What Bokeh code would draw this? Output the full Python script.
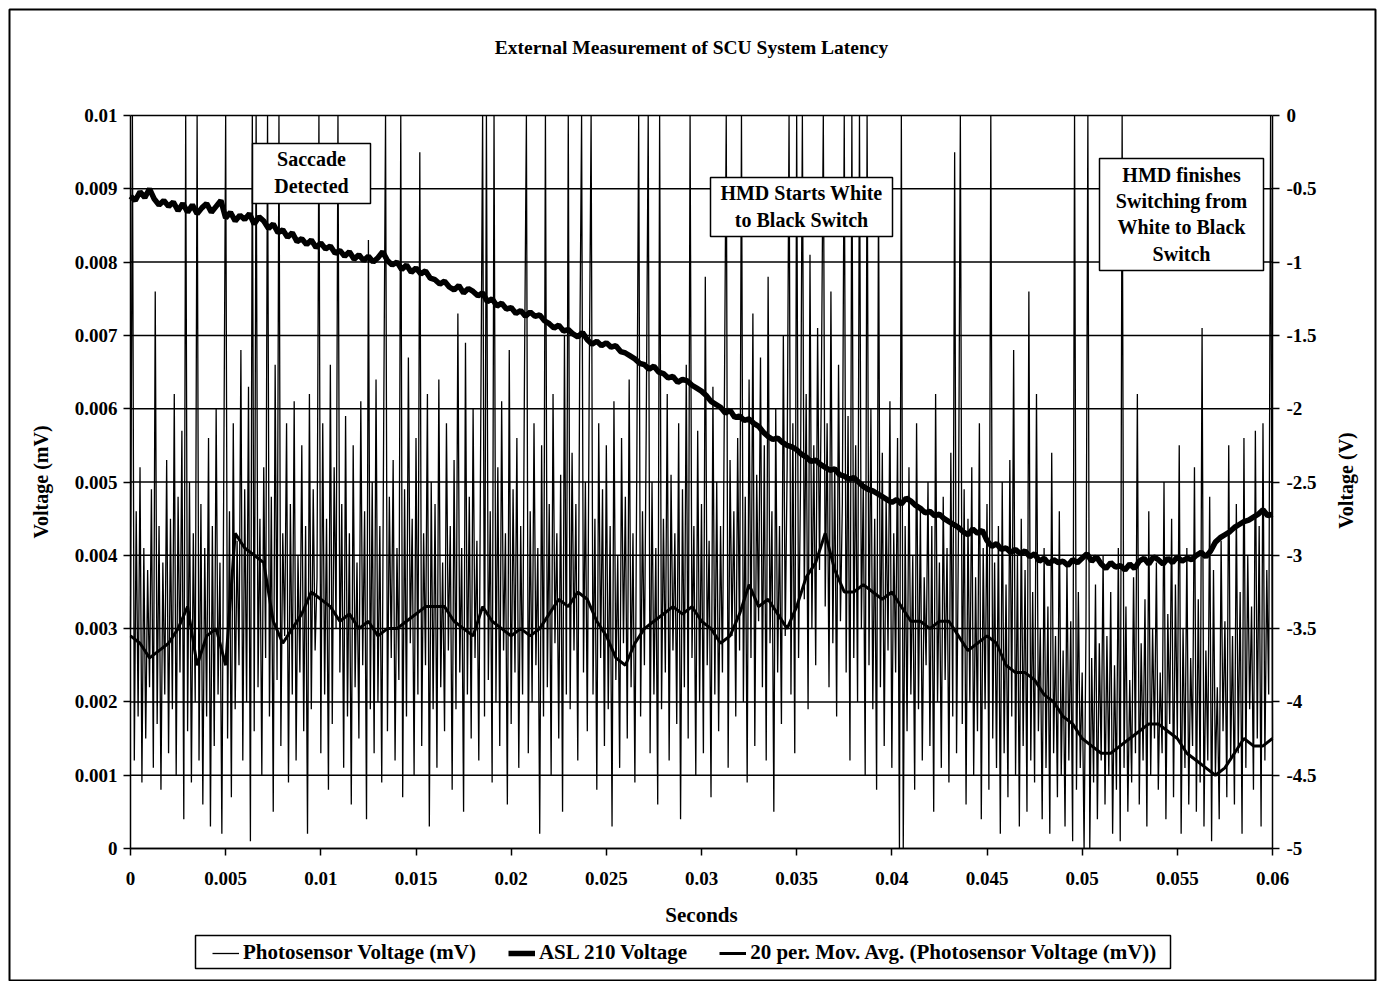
import math
import numpy as np
from bokeh.plotting import figure
from bokeh.models import (Range1d, LinearAxis, FixedTicker, CustomJSTickFormatter,
                          Legend, LegendItem, BoxAnnotation, Label)
from bokeh.embed import file_html
from bokeh.resources import INLINE

# ---------------- data ----------------
# Photosensor voltage (mV), one sample every 0.0001 s from 0 to 0.06 s
photo_step = 0.0001
photo_mV = [
    0.0030, 0.0105, 0.0012, 0.0046, 0.0018, 0.0052, 0.0009, 0.0041, 0.0015, 0.0038,
    0.0022, 0.0049, 0.0011, 0.0076, 0.0017, 0.0044, 0.0008, 0.0039, 0.0021, 0.0053,
    0.0013, 0.0045, 0.0019, 0.0062, 0.0010, 0.0048, 0.0024, 0.0057, 0.0004, 0.0110,
    0.0016, 0.0050, 0.0009, 0.0043, 0.0020, 0.0112, 0.0012, 0.0047, 0.0006, 0.0041,
    0.0018, 0.0056, 0.0003, 0.0044, 0.0014, 0.0060, 0.0021, 0.0039, 0.0002, 0.0051,
    0.0110, 0.0015, 0.0046, 0.0007, 0.0058, 0.0019, 0.0042, 0.0025, 0.0068, 0.0012,
    0.0049, 0.0020, 0.0063, 0.0001, 0.0115, 0.0016, 0.0108, 0.0022, 0.0045, 0.0010,
    0.0052, 0.0026, 0.0112, 0.0018, 0.0048, 0.0005, 0.0066, 0.0023, 0.0115, 0.0014,
    0.0043, 0.0029, 0.0058, 0.0009, 0.0047, 0.0021, 0.0061, 0.0012, 0.0040, 0.0024,
    0.0055, 0.0016, 0.0044, 0.0002, 0.0062, 0.0019, 0.0049, 0.0027, 0.0037, 0.0106,
    0.0013, 0.0058, 0.0021, 0.0045, 0.0008, 0.0066, 0.0017, 0.0052, 0.0030, 0.0112,
    0.0024, 0.0047, 0.0011, 0.0059, 0.0018, 0.0043, 0.0006, 0.0055, 0.0022, 0.0039,
    0.0015, 0.0061, 0.0025, 0.0046, 0.0004, 0.0083, 0.0019, 0.0050, 0.0013, 0.0064,
    0.0020, 0.0044, 0.0009, 0.0057, 0.0110, 0.0016, 0.0048, 0.0026, 0.0053, 0.0012,
    0.0041, 0.0023, 0.0114, 0.0007, 0.0049, 0.0018, 0.0067, 0.0028, 0.0045, 0.0010,
    0.0056, 0.0021, 0.0095, 0.0014, 0.0043, 0.0025, 0.0062, 0.0003, 0.0050, 0.0019,
    0.0047, 0.0011, 0.0064, 0.0022, 0.0039, 0.0016, 0.0058, 0.0027, 0.0044, 0.0008,
    0.0053, 0.0019, 0.0073, 0.0024, 0.0041, 0.0005, 0.0069, 0.0021, 0.0048, 0.0015,
    0.0060, 0.0026, 0.0042, 0.0012, 0.0057, 0.0114, 0.0018, 0.0110, 0.0023, 0.0046,
    0.0009, 0.0113, 0.0020, 0.0052, 0.0014, 0.0061, 0.0027, 0.0043, 0.0006, 0.0068,
    0.0017, 0.0049, 0.0024, 0.0056, 0.0011, 0.0044, 0.0021, 0.0065, 0.0109, 0.0013,
    0.0046, 0.0020, 0.0058, 0.0025, 0.0041, 0.0002, 0.0055, 0.0018, 0.0112, 0.0022,
    0.0047, 0.0010, 0.0062, 0.0028, 0.0043, 0.0015, 0.0051, 0.0005, 0.0070, 0.0021,
    0.0112, 0.0019, 0.0054, 0.0027, 0.0047, 0.0012, 0.0066, 0.0100, 0.0024, 0.0050,
    0.0016, 0.0063, 0.0113, 0.0021, 0.0045, 0.0008, 0.0058, 0.0026, 0.0049, 0.0014,
    0.0055, 0.0019, 0.0044, 0.0003, 0.0061, 0.0023, 0.0040, 0.0011, 0.0056, 0.0028,
    0.0048, 0.0015, 0.0064, 0.0022, 0.0043, 0.0009, 0.0052, 0.0111, 0.0018, 0.0046,
    0.0025, 0.0059, 0.0110, 0.0013, 0.0050, 0.0021, 0.0041, 0.0006, 0.0115, 0.0019,
    0.0045, 0.0024, 0.0062, 0.0012, 0.0051, 0.0027, 0.0043, 0.0017, 0.0058, 0.0004,
    0.0049, 0.0022, 0.0066, 0.0015, 0.0113, 0.0026, 0.0044, 0.0010, 0.0057, 0.0020,
    0.0047, 0.0013, 0.0078, 0.0025, 0.0042, 0.0007, 0.0063, 0.0021, 0.0050, 0.0016,
    0.0044, 0.0024, 0.0060, 0.0114, 0.0011, 0.0053, 0.0029, 0.0046, 0.0018, 0.0056,
    0.0027, 0.0112, 0.0020, 0.0048, 0.0009, 0.0064, 0.0026, 0.0073, 0.0014, 0.0051,
    0.0031, 0.0067, 0.0022, 0.0055, 0.0012, 0.0078, 0.0028, 0.0046, 0.0005, 0.0060,
    0.0024, 0.0044, 0.0017, 0.0070, 0.0029, 0.0052, 0.0108, 0.0021, 0.0058, 0.0013,
    0.0112, 0.0026, 0.0049, 0.0110, 0.0034, 0.0062, 0.0019, 0.0081, 0.0030, 0.0055,
    0.0025, 0.0071, 0.0038, 0.0064, 0.0111, 0.0033, 0.0058, 0.0022, 0.0076, 0.0028,
    0.0052, 0.0018, 0.0066, 0.0031, 0.0047, 0.0113, 0.0024, 0.0059, 0.0012, 0.0114,
    0.0026, 0.0055, 0.0020, 0.0112, 0.0030, 0.0050, 0.0010, 0.0112, 0.0025, 0.0060,
    0.0019, 0.0045, 0.0008, 0.0090, 0.0022, 0.0054, 0.0014, 0.0048, 0.0027, 0.0061,
    0.0011, 0.0043, 0.0024, 0.0056, 0.0000, 0.0115, 0.0000, 0.0044, 0.0016, 0.0052,
    0.0021, 0.0040, 0.0008, 0.0058, 0.0019, 0.0046, 0.0012, 0.0037, 0.0025, 0.0050,
    0.0014, 0.0044, 0.0005, 0.0062, 0.0020, 0.0039, 0.0011, 0.0048, 0.0023, 0.0041,
    0.0009, 0.0054, 0.0018, 0.0095, 0.0013, 0.0043, 0.0106, 0.0017, 0.0049, 0.0006,
    0.0045, 0.0020, 0.0052, 0.0010, 0.0037, 0.0016, 0.0058, 0.0004, 0.0041, 0.0019,
    0.0047, 0.0008, 0.0110, 0.0015, 0.0039, 0.0011, 0.0044, 0.0002, 0.0050, 0.0013,
    0.0036, 0.0007, 0.0053, 0.0018, 0.0068, 0.0010, 0.0040, 0.0003, 0.0045, 0.0014,
    0.0038, 0.0005, 0.0076, 0.0012, 0.0035, 0.0009, 0.0062, 0.0016, 0.0030, 0.0004,
    0.0041, 0.0011, 0.0033, 0.0002, 0.0054, 0.0013, 0.0029, 0.0007, 0.0046, 0.0010,
    0.0027, 0.0003, 0.0039, 0.0012, 0.0031, 0.0001, 0.0113, 0.0008, 0.0035, 0.0011,
    0.0024, 0.0000, 0.0030, 0.0115, 0.0000, 0.0026, 0.0009, 0.0036, 0.0004, 0.0028,
    0.0012, 0.0040, 0.0006, 0.0029, 0.0010, 0.0035, 0.0002, 0.0025, 0.0008, 0.0041,
    0.0001, 0.0114, 0.0011, 0.0033, 0.0005, 0.0023, 0.0009, 0.0037, 0.0013, 0.0062,
    0.0006, 0.0028, 0.0012, 0.0034, 0.0003, 0.0046, 0.0010, 0.0030, 0.0015, 0.0039,
    0.0008, 0.0024, 0.0013, 0.0050, 0.0004, 0.0032, 0.0017, 0.0045, 0.0007, 0.0036,
    0.0015, 0.0055, 0.0002, 0.0030, 0.0011, 0.0041, 0.0006, 0.0026, 0.0014, 0.0052,
    0.0005, 0.0034, 0.0009, 0.0071, 0.0003, 0.0027, 0.0012, 0.0048, 0.0001, 0.0038,
    0.0010, 0.0022, 0.0004, 0.0042, 0.0016, 0.0031, 0.0007, 0.0055, 0.0012, 0.0029,
    0.0006, 0.0047, 0.0013, 0.0035, 0.0002, 0.0056, 0.0011, 0.0040, 0.0019, 0.0033,
    0.0008, 0.0057, 0.0015, 0.0044, 0.0003, 0.0058, 0.0012, 0.0038, 0.0021, 0.0112,
    0.0015,
]

# ASL 210 voltage (V, right axis), one sample every 0.00025 s
asl_step = 0.00025
asl_V = [
    -0.55, -0.58, -0.52, -0.56, -0.50, -0.57, -0.61, -0.58, -0.62, -0.59, -0.65, -0.60,
    -0.66, -0.61, -0.67, -0.63, -0.60, -0.66, -0.62, -0.58, -0.70, -0.66, -0.72, -0.68,
    -0.71, -0.67, -0.74, -0.69, -0.72, -0.77, -0.74, -0.80, -0.78, -0.83, -0.80, -0.86,
    -0.84, -0.88, -0.85, -0.90, -0.87, -0.91, -0.89, -0.94, -0.92, -0.96, -0.93, -0.98,
    -0.95, -0.99, -0.96, -1.00, -0.97, -0.93, -0.99, -1.02, -1.00, -1.05, -1.02, -1.07,
    -1.04, -1.08, -1.06, -1.11, -1.12, -1.15, -1.13, -1.17, -1.19, -1.16, -1.21, -1.18,
    -1.20, -1.23, -1.21, -1.27, -1.25, -1.30, -1.28, -1.32, -1.31, -1.35, -1.33, -1.37,
    -1.34, -1.37, -1.36, -1.40, -1.42, -1.45, -1.43, -1.47, -1.46, -1.49, -1.51, -1.48,
    -1.53, -1.56, -1.54, -1.57, -1.55, -1.58, -1.57, -1.61, -1.62, -1.64, -1.66, -1.69,
    -1.70, -1.73, -1.71, -1.75, -1.76, -1.79, -1.78, -1.82, -1.80, -1.81, -1.84, -1.86,
    -1.88, -1.91, -1.95, -1.97, -1.99, -2.03, -2.01, -2.06, -2.05, -2.08, -2.07, -2.10,
    -2.12, -2.16, -2.19, -2.21, -2.20, -2.23, -2.25, -2.26, -2.28, -2.31, -2.33, -2.36,
    -2.35, -2.38, -2.40, -2.42, -2.41, -2.45, -2.46, -2.48, -2.47, -2.50, -2.53, -2.55,
    -2.56, -2.58, -2.60, -2.62, -2.64, -2.62, -2.65, -2.61, -2.63, -2.66, -2.68, -2.71,
    -2.70, -2.73, -2.72, -2.75, -2.77, -2.79, -2.81, -2.84, -2.86, -2.82, -2.85, -2.83,
    -2.90, -2.94, -2.92, -2.96, -2.95, -2.98, -2.96, -2.99, -2.97, -3.01, -2.99, -3.04,
    -3.02, -3.06, -3.03, -3.05, -3.04, -3.07, -3.03, -3.05, -3.02, -2.99, -3.04, -3.01,
    -3.06, -3.09, -3.05, -3.08, -3.07, -3.10, -3.06, -3.09, -3.04, -3.02, -3.06, -3.01,
    -3.03, -3.06, -3.02, -3.05, -3.01, -3.04, -3.02, -3.03, -3.00, -2.98, -3.01, -2.97,
    -2.91, -2.88, -2.86, -2.84, -2.81, -2.79, -2.77, -2.76, -2.74, -2.72, -2.69, -2.73,
    -2.72,
]

# 20 period moving average of the photosensor voltage (mV), every 0.0005 s
ma_step = 0.0005
ma_mV = [
    0.0029, 0.0028, 0.0026, 0.0027, 0.0028, 0.0030, 0.0033, 0.0025, 0.0029, 0.0030,
    0.0025, 0.0043, 0.0041, 0.0040, 0.0039, 0.0031, 0.0028, 0.0030, 0.0032, 0.0035,
    0.0034, 0.0033, 0.0031, 0.0032, 0.0030, 0.0031, 0.0029, 0.0030, 0.0030, 0.0031,
    0.0032, 0.0033, 0.0033, 0.0033, 0.0031, 0.0030, 0.0029, 0.0033, 0.0031, 0.0030,
    0.0029, 0.0030, 0.0029, 0.0030, 0.0032, 0.0034, 0.0033, 0.0035, 0.0034, 0.0031,
    0.0029, 0.0026, 0.0025, 0.0028, 0.0030, 0.0031, 0.0032, 0.0033, 0.0032, 0.0033,
    0.0031, 0.0030, 0.0028, 0.0029, 0.0032, 0.0036, 0.0033, 0.0034, 0.0032, 0.0030,
    0.0033, 0.0037, 0.0039, 0.0043, 0.0038, 0.0035, 0.0035, 0.0036, 0.0035, 0.0034,
    0.0035, 0.0033, 0.0031, 0.0031, 0.0030, 0.0031, 0.0031, 0.0029, 0.0027, 0.0028,
    0.0029, 0.0028, 0.0025, 0.0024, 0.0024, 0.0023, 0.0021, 0.0020, 0.0018, 0.0017,
    0.0015, 0.0014, 0.0013, 0.0013, 0.0014, 0.0015, 0.0016, 0.0017, 0.0017, 0.0016,
    0.0015, 0.0013, 0.0012, 0.0011, 0.0010, 0.0011, 0.0013, 0.0015, 0.0014, 0.0014,
    0.0015,
]

x_ticks = [0, 0.005, 0.01, 0.015, 0.02, 0.025, 0.03, 0.035, 0.04, 0.045, 0.05, 0.055, 0.06]
left_ticks = [0, 0.001, 0.002, 0.003, 0.004, 0.005, 0.006, 0.007, 0.008, 0.009, 0.01]
right_ticks = [-5, -4.5, -4, -3.5, -3, -2.5, -2, -1.5, -1, -0.5, 0]

X_MIN, X_MAX = 0, 0.06          # axis limits (s)
Y_MIN, Y_MAX = 0, 0.01          # left axis limits (mV)
R_MIN, R_MAX = -5, 0            # right axis limits (V)

photo_t = np.arange(len(photo_mV)) * photo_step
asl_t = np.arange(len(asl_V)) * asl_step
ma_t = np.arange(len(ma_mV)) * ma_step

# ---------------- layout (pixels) ----------------
W, H = 1383, 981
FL, FR, FT, FB = 9, 1375, 9, 980          # outer chart frame
PL, PR, PT, PB = 130, 1272, 115, 848      # plot area
kx = (PR - PL) / (X_MAX - X_MIN)
ky = (PB - PT) / (Y_MAX - Y_MIN)


def X(px):
    return X_MIN + (px - PL) / kx


def Y(py):
    return Y_MIN + (PB - py) / ky


def R(yv):
    return R_MIN + (yv - Y_MIN) / (Y_MAX - Y_MIN) * (R_MAX - R_MIN)


FONT = "Liberation Serif"

p = figure(width=W, height=H, output_backend="svg", toolbar_location=None, title=None,
           x_range=Range1d(X(FL), X(FR)), y_range=Range1d(Y(FB), Y(FT)),
           min_border_left=FL, min_border_right=W - FR, min_border_top=FT,
           min_border_bottom=H - FB)
p.extra_y_ranges = {"asl": Range1d(R(Y(FB)), R(Y(FT)))}
p.background_fill_color = "white"
p.border_fill_color = "white"
p.outline_line_color = "black"
p.outline_line_width = 2
p.grid.visible = False

fmt = CustomJSTickFormatter(code="return tick.toString();")


def style_axis(ax, ticks):
    ax.ticker = FixedTicker(ticks=ticks)
    ax.formatter = fmt
    ax.axis_line_color = "black"
    ax.axis_line_width = 1.5
    ax.major_tick_line_color = "black"
    ax.major_tick_line_width = 1.5
    ax.major_tick_in = 0
    ax.major_tick_out = 7
    ax.minor_tick_line_color = None
    ax.major_label_text_font = FONT
    ax.major_label_text_font_style = "bold"
    ax.major_label_text_font_size = "19px"
    ax.major_label_text_color = "black"
    ax.axis_label_text_font = FONT
    ax.axis_label_text_font_style = "bold"
    ax.axis_label_text_font_size = "20px"
    ax.axis_label_text_color = "black"


xax = p.xaxis[0]
style_axis(xax, x_ticks)
xax.axis_label = "Seconds"
xax.fixed_location = Y_MIN
xax.bounds = (X_MIN, X_MAX)
xax.major_label_standoff = 16
xax.axis_label_standoff = 15
xax.axis_label_text_font_size = "21px"

yax = p.yaxis[0]
style_axis(yax, left_ticks)
yax.axis_label = "Voltage (mV)"
yax.fixed_location = X_MIN
yax.bounds = (Y_MIN, Y_MAX)
yax.major_label_standoff = 6
yax.axis_label_standoff = 20

raxis = LinearAxis(y_range_name="asl", fixed_location=X_MAX, bounds=(R_MIN, R_MAX))
style_axis(raxis, right_ticks)
raxis.major_label_standoff = 7
p.add_layout(raxis, "right")

# horizontal grid lines at the left-axis ticks, limited to the plot area
p.segment(x0=X_MIN, x1=X_MAX, y0=left_ticks, y1=left_ticks,
          line_color="black", line_width=1.5, level="underlay")

# series (the photosensor trace is shown clipped at the top of the axis, as in the chart)
r_photo = p.line(photo_t, np.minimum(photo_mV, Y_MAX), line_color="black", line_width=1.3)
r_asl = p.line(asl_t, asl_V, line_color="black", line_width=5.5, y_range_name="asl")
r_ma = p.line(ma_t, ma_mV, line_color="black", line_width=3)

# title and right axis label
p.add_layout(Label(x=X(691), y=Y(47), text="External Measurement of SCU System Latency",
                   text_align="center", text_baseline="middle", text_font=FONT,
                   text_font_style="bold", text_font_size="19.5px", text_color="black"))
p.add_layout(Label(x=X(1345), y=Y(480), text="Voltage (V)", angle=math.pi / 2,
                   text_align="center", text_baseline="middle", text_font=FONT,
                   text_font_style="bold", text_font_size="20px", text_color="black"))


# ---------------- annotation boxes ----------------
def note(l, r, t, b, xc, lines_y, lines):
    p.add_layout(BoxAnnotation(left=X(l), right=X(r), top=Y(t), bottom=Y(b),
                               fill_color="white", fill_alpha=1.0,
                               line_color="black", line_width=1.5, line_alpha=1.0))
    for yy, txt in zip(lines_y, lines):
        p.add_layout(Label(x=X(xc), y=Y(yy), text=txt, text_align="center",
                           text_baseline="middle", text_font=FONT,
                           text_font_style="bold", text_font_size="20px",
                           text_color="black"))


note(252, 370, 143, 203, 311, [158, 185], ["Saccade", "Detected"])
note(710, 892, 177, 236, 801, [192, 219], ["HMD Starts White", "to Black Switch"])
note(1099, 1263, 158, 270, 1181, [174, 200, 226, 253],
     ["HMD finishes", "Switching from", "White to Black", "Switch"])

# ---------------- legend ----------------
# frame of the legend box
p.add_layout(BoxAnnotation(left=X(195), right=X(1170), top=Y(935), bottom=Y(968),
                           fill_color="white", fill_alpha=1.0,
                           line_color="black", line_width=1.5, line_alpha=1.0))
legend = Legend(items=[
    LegendItem(label="Photosensor Voltage (mV)", renderers=[r_photo]),
    LegendItem(label="ASL 210 Voltage", renderers=[r_asl]),
    LegendItem(label="20 per. Mov. Avg. (Photosensor Voltage (mV))", renderers=[r_ma]),
], orientation="horizontal", location=(213 - FL - 1, FB - 969 + 4))
legend.border_line_color = None
legend.background_fill_alpha = 0.0
legend.label_text_font = FONT
legend.label_text_font_style = "bold"
legend.label_text_font_size = "21px"
legend.label_text_color = "black"
legend.glyph_width = 27
legend.glyph_height = 20
legend.label_standoff = 4
legend.spacing = 32
legend.padding = 5
legend.margin = 0
p.add_layout(legend, "center")

open("out.html", "w").write(file_html(p, INLINE))
